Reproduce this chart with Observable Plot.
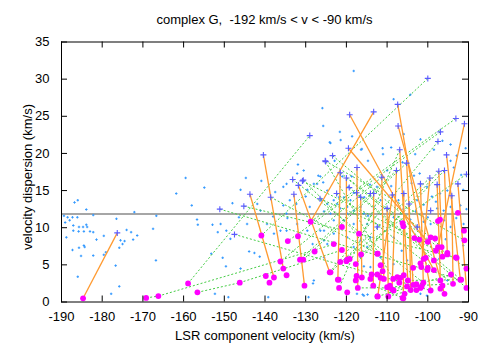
<!DOCTYPE html>
<html><head><meta charset="utf-8">
<script src="https://cdn.jsdelivr.net/npm/d3@7"></script>
<script src="https://cdn.jsdelivr.net/npm/@observablehq/plot@0.6"></script>
<style>
body{margin:0;background:#fff;}
#wrap{position:relative;width:491px;height:343px;font-family:"Liberation Sans",Arial,sans-serif;overflow:hidden;}
#title{position:absolute;left:61px;width:407px;top:12px;height:15px;line-height:15px;font-size:13px;text-align:center;color:#000;white-space:pre;}
#chart{position:absolute;left:0;top:30px;}
</style></head><body>
<div id="wrap"><div id="title">complex G,  -192 km/s &lt; v &lt; -90 km/s</div><div id="chart"></div></div>
<script>
const xTicks = [-190,-180,-170,-160,-150,-140,-130,-120,-110,-100,-90];
const yTicks = [0,5,10,15,20,25,30,35];
const xLabel = "LSR component velocity (km/s)";
const yLabel = "velocity dispersion (km/s)";
const refY = 11.85;

// small blue points
const dotX = [
-159.5,-161.8,-186.8,-186.0,-183.9,-189.4,-188.5,-187.3,-186.1,-182.2,
-172.1,-166.7,-189.1,-188.0,-187.1,-185.7,-184.7,-183.9,-183.7,-183.0,
-182.2,-187.1,-185.8,-184.5,-176.5,-174.0,-172.9,-188.8,-181.4,-179.6,
-175.5,-174.5,-175.0,-172.4,-171.4,-167.5,-187.3,-185.7,-184.5,-184.3,
-179.1,-179.6,-175.8,-182.2,-185.2,-166.8,-176.7,-186.0,-175.8,-177.8,
-152.3,-149.0,-139.2,-129.3,-128.2,-116.0,-114.8,-154.9,-144.7,-140.9,
-148.0,-156.7,-156.5,-152.9,-150.9,-149.5,-151.6,-148.5,-146.4,-144.4,
-143.9,-153.2,-150.4,-149.6,-142.6,-141.3,-146.0,-141.1,-139.5,-141.9,
-136.2,-137.8,-134.7,-134.5,-132.1,-129.6,-128.3,-126.4,-125.5,-128.0,
-127.2,-158.0,-146.0,-137.5,-135.5,-130.0,-138.0,
-125.9,-125.7,-131.9,-130.5,-124.1,-134.7,-135.5,-126.9,-125.7,-121.6,
-123.9,-118.6,-121.4,-116.4,-114.7,-132.1,-122.9,-121.0,-118.7,-128.0,
-126.4,-114.2,-129.6,-124.7,-120.6,-121.8,-133.9,-132.3,-129.0,-126.2,
-125.5,-122.3,-119.0,-116.5,-115.6,-123.9,-119.8,-114.7,-134.7,-118.2,
-108.4,-104.3,-94.4,-96.4,-98.5,-90.7,-106.2,-111.0,-92.9,-94.4,
-93.6,-91.8,-102.0,-103.4,-110.0,-111.0,-109.0,-105.9,-101.8,-103.1,
-116.2,-111.1,
-97.7,-97.0,-95.2,-94.1,-92.6,-91.3,-101.8,-100.2,-102.6,-101.0,
-99.3,-97.7,-96.1,-94.4,-108.7,-107.2,-105.9,-104.6,-110.0,-108.4,
-106.7,-104.3,-102.6,-101.0,-99.3,-110.0,-108.4,-95.6,-94.4,-91.3,
-91.2,-97.2,-103.4,-105.1,-106.4,-108.4,-100.2,-101.8,-95.2,-119.5,
-118.2,-116.5,-114.1,-123.1,-124.7,-121.5,-119.8,-118.2,-115.7,-113.3,
-111.6,-123.1,-120.6,-118.2,-114.9,-112.4,-125.5,-123.1,-119.8,-116.5,
-114.1,-124.7,-118.2,-114.9,-125.5,-115.7,-114.1,-117.4,-115.7,-111.6,
-116.5,-103.0,-100.0,-96.0,-93.0,-106.0,-98.0,-92.0,-90.5,-109.0,
-112.5,-104.0,-99.0
];
const dotY = [
16.7,14.6,13.4,13.7,12.45,11.6,11.4,11.4,11.4,11.7,
12.1,11.6,10.7,11.0,10.3,10.1,10.1,10.4,10.1,9.5,
9.4,9.6,9.5,9.5,11.2,9.7,9.4,8.7,8.4,8.9,
8.3,8.2,7.8,8.4,8.95,9.85,7.0,7.3,7.6,7.4,
6.7,6.35,7.3,6.25,6.2,5.6,4.9,3.4,2.1,1.1,
1.1,0.65,0.65,0.65,2.5,1.0,1.0,15.4,16.7,16.3,
13.3,11.1,10.4,10.4,10.5,9.6,9.4,8.5,11.4,10.5,
6.8,6.5,5.95,4.8,6.6,6.1,4.5,12.3,10.5,13.2,
9.6,9.2,9.6,11.3,10.5,9.6,7.8,9.6,8.3,2.9,
15.9,13.0,15.1,14.8,13.0,14.2,11.5,
26.1,23.7,18.5,17.7,21.5,15.9,15.5,17.0,16.1,22.9,
21.4,22.3,21.8,20.5,19.0,17.3,19.0,16.9,16.9,15.9,
16.9,15.8,15.1,15.0,14.1,14.1,13.7,13.2,12.8,13.7,
12.2,13.2,13.7,12.8,14.1,11.9,11.9,11.6,11.9,31.1,
27.3,27.9,21.2,21.7,20.5,20.7,18.8,19.9,19.7,19.0,
18.1,17.1,17.3,17.0,17.7,16.8,20.8,22.6,21.9,19.9,
20.6,20.7,
15.8,14.6,15.0,14.3,15.9,15.1,15.9,15.5,13.7,13.1,
12.3,12.6,12.3,12.8,14.4,13.7,14.6,13.2,12.6,11.4,
10.8,11.1,10.1,10.8,10.5,9.6,8.7,8.45,10.1,7.6,
10.5,5.8,4.7,5.6,6.9,5.1,0.85,1.1,2.9,15.5,
14.7,14.1,14.6,13.7,13.2,12.6,12.8,12.3,11.9,12.8,
13.7,11.0,11.0,10.5,10.5,10.1,9.6,9.2,8.7,8.3,
8.7,7.8,7.4,7.4,6.0,4.8,4.7,1.1,0.85,6.0,
6.0,12.2,11.4,11.0,11.3,12.5,13.5,13.0,12.5,15.6,
15.5,16.0,14.2
];

// magenta circles
const circX = [
-184.7,-169.2,-166.2,-158.9,-156.6,-146.2,-138.9,-130.3,-140.9,-134.4,
-136.2,-139.8,-137.8,-134.7,-131.4,-130.6,-131.9,-128.8,-127.8,-124.1,
-121.1,-116.9,-123.1,-121.1,-116.4,-112.4,-119.8,-119.2,-121.5,-117.7,
-121.9,-117.7,-112.4,-113.8,-121.8,-117.2,-119.8,-112.4,-120.0,-123.9,
-117.5,-113.4,-112.3,-109.7,-106.0,-110.0,-108.8,-111.6,-111.1,-111.6,
-110.8,-107.5,-106.7,-104.9,-105.1,-104.2,-103.6,-102.1,-101.8,-101.6,
-101.1,-100.1,-99.3,-98.2,-98.0,-98.5,-97.5,-96.6,-96.9,-95.9,
-95.2,-94.3,-93.1,-92.6,-91.8,-91.1,-91.0,-90.5,-90.5,-106.0,
-103.3,-100.0,-112.3,-116.2,-114.1,-108.5,-107.0,-102.8,-101.8,-103.6,
-105.9,-100.5,-98.5,-92.9,-92.0,-93.8,-97.5,-95.2,-96.4,-97.0,
-99.3,-106.2,-101.0,-100.0,-109.3,-108.4,-106.2,-105.7,-102.8,-101.5,
-96.9,-96.4,-135.5,-122.1
];
const circY = [
0.5,0.55,0.8,2.5,1.3,2.6,2.6,2.2,8.95,8.2,
5.45,3.5,3.3,3.6,5.7,5.7,8.85,10.8,6.8,4.0,
10.1,9.2,7.8,7.0,6.4,6.5,5.7,5.8,5.4,5.1,
3.0,2.9,3.7,3.7,1.9,1.9,1.3,0.75,5.5,4.0,
3.5,2.2,0.75,0.75,0.5,2.0,1.7,4.95,4.15,3.25,
3.1,3.35,3.25,2.9,2.1,1.6,4.6,8.4,5.2,4.7,
2.6,4.3,1.55,8.55,6.9,5.6,10.9,7.4,2.9,1.1,
6.4,3.7,6.0,12.0,3.0,9.6,8.3,4.5,1.9,10.2,
8.6,8.1,6.5,3.3,3.1,3.1,2.6,2.4,1.9,2.3,
3.6,5.95,4.3,5.95,3.0,2.45,7.4,6.6,6.1,11.1,
8.7,10.6,5.8,4.6,2.2,1.55,0.55,1.1,1.6,2.1,
1.8,2.2,4.5,3.0
];

// blue plus markers
const plusX = [
-176.3,-140.4,-143.7,-132.9,-131.8,-113.3,-117.4,-119.2,-107.4,-107.3,
-91.0,-95.4,-95.9,-97.3,-119.5,-106.9,-105.2,-107.7,-111.3,-99.5,
-121.5,-113.3,-105.9,-108.7,-101.8,-104.6,-97.7,-110.0,-94.1,-120.0,
-116.5,-92.6,-129.0,-151.1,-145.2,-147.5,-100.0,-93.1,-96.9,-97.5,
-90.5,-125.2,-123.4,-130.8,-133.2,-126.5,-122.4,-119.3,-117.5,-130.6,
-138.6,-125.1,-99.3,-102.6,-112.4,-114.1
];
const plusY = [
9.3,19.8,14.5,14.5,15.7,25.6,18.1,25.2,26.6,23.7,
24.0,19.8,17.7,17.6,20.7,20.5,18.7,17.7,16.8,16.7,
17.4,14.6,14.6,14.4,15.9,13.2,15.8,12.6,14.3,16.7,
14.1,15.9,22.4,12.5,12.9,9.1,30.1,24.7,22.9,21.6,
17.2,19.0,19.7,16.3,16.5,13.9,14.6,15.4,14.7,16.4,
14.1,18.9,12.3,10.1,10.1,14.6
];

// orange solid connections
const oX1 = [-176.3,-140.4,-143.7,-132.9,-131.8,-113.3,-117.4,-119.2,-107.4,-107.3,-91.0,-95.4,-95.9,-97.3,-119.5,-106.9,-105.2,-107.7,-111.3,-99.5,-121.5,-113.3,-105.9,-108.7,-101.8,-104.6,-97.7,-110.0,-94.1,-120.0,-116.5,-92.6];
const oY1 = [9.3,19.8,14.5,14.5,15.7,25.6,18.1,25.2,26.6,23.7,24.0,19.8,17.7,17.6,20.7,20.5,18.7,17.7,16.8,16.7,17.4,14.6,14.6,14.4,15.9,13.2,15.8,12.6,14.3,16.7,14.1,15.9];
const oX2 = [-184.7,-135.5,-137.8,-130.3,-124.1,-128.8,-117.2,-98.5,-99.3,-95.9,-97.5,-92.0,-95.2,-96.4,-100.0,-104.9,-103.6,-108.8,-110.8,-101.6,-122.1,-113.4,-106.0,-112.3,-101.1,-104.2,-96.9,-109.7,-93.8,-120.0,-116.2,-90.5];
const oY2 = [0.5,4.5,3.3,2.2,4.0,10.8,1.9,4.3,1.55,1.1,7.4,3.0,6.4,6.1,8.1,2.9,2.3,1.7,3.1,4.7,3.0,2.2,0.5,0.75,2.6,1.6,2.9,0.75,2.45,5.5,3.3,1.9];

// green dashed connections
const gX1 = [-169.2,-166.2,-156.6,-146.2,-158.9,-151.1,-145.2,-147.5,-100.0,-93.1,-96.9,-97.5,-90.5,-99.5,-125.2,-123.4,-121.5,-120.0,-130.8,-133.2,-126.5,-122.4,-119.3,-111.3,-107.7,-105.2,-97.3,-95.9,-117.5,-112.3,-110.0,-113.4,-117.2,-104.9,-109.7,-106.9,-130.6,-138.6,-125.1];
const gY1 = [0.55,0.8,1.3,2.6,2.5,12.5,12.9,9.1,30.1,24.7,22.9,21.6,17.2,16.7,19.0,19.7,17.4,16.7,16.3,16.5,13.9,14.6,15.4,16.8,17.7,18.7,17.6,17.7,14.7,0.75,2.0,2.2,1.9,2.9,0.75,20.5,16.4,14.1,18.9];
const gX2 = [-166.2,-122.9,-146.2,-121.0,-129.0,-92.0,-93.1,-99.3,-140.9,-128.8,-134.4,-124.1,-121.5,-123.9,-91.0,-96.6,-90.5,-98.0,-102.1,-101.1,-95.2,-93.8,-90.5,-136.2,-131.4,-130.6,-117.7,-116.2,-91.8,-94.3,-93.8,-106.0,-101.8,-91.8,-104.2,-121.8,-112.4,-112.3,-108.5];
const gY2 = [0.8,7.8,2.6,7.0,22.4,3.0,6.0,1.55,8.95,10.8,8.2,4.0,5.4,4.0,8.3,7.4,4.5,6.9,8.4,2.6,6.4,2.45,1.9,5.45,5.7,5.7,5.1,6.4,3.0,3.7,2.45,0.5,1.9,3.0,1.6,1.9,6.5,6.5,3.1];

const dots = dotX.map((x, i) => ({x, y: dotY[i]}));
const circles = circX.map((x, i) => ({x, y: circY[i]}));
const pluses = plusX.map((x, i) => ({x, y: plusY[i]}));
const orange = oX1.map((x, i) => ({x1: x, y1: oY1[i], x2: oX2[i], y2: oY2[i]}));
const green = gX1.map((x, i) => ({x1: x, y1: gY1[i], x2: gX2[i], y2: gY2[i]}));

const W = 491, H = 313, mT = 11.5, mB = 41.5, mL = 61, mR = 23;
const frameW = W - mL - mR, frameH = H - mT - mB, tick = 6;
const fmt = d => String(d);
const chart = Plot.plot({
  width: W, height: H,
  marginTop: mT, marginBottom: mB, marginLeft: mL, marginRight: mR,
  style: {fontFamily: '"Liberation Sans", Arial, sans-serif', fontSize: "13px", color: "#000", background: "#fff", overflow: "visible"},
  x: {domain: [-190, -90]},
  y: {domain: [0, 35]},
  marks: [
    Plot.ruleY([refY], {stroke: "#a6a6a6", strokeWidth: 2}),
    Plot.dot(dots, {x: "x", y: "y", symbol: "plus", r: 0.85, stroke: "#3399ff", strokeWidth: 1}),
    Plot.link(green, {x1: "x1", y1: "y1", x2: "x2", y2: "y2", stroke: "#44cc44", strokeWidth: 1, strokeDasharray: "2,2"}),
    Plot.link(orange, {x1: "x1", y1: "y1", x2: "x2", y2: "y2", stroke: "#ff9a30", strokeWidth: 1.3}),
    Plot.dot(circles, {x: "x", y: "y", r: 2.9, fill: "#ff00ff"}),
    Plot.dot(pluses, {x: "x", y: "y", symbol: "plus", r: 2.1, stroke: "#5b5bff", strokeWidth: 1.1}),
    // inward mirror ticks on all four sides
    Plot.ruleX(xTicks, {stroke: "#000", insetTop: frameH - tick}),
    Plot.ruleX(xTicks, {stroke: "#000", insetBottom: frameH - tick}),
    Plot.ruleY(yTicks, {stroke: "#000", insetRight: frameW - tick}),
    Plot.ruleY(yTicks, {stroke: "#000", insetLeft: frameW - tick}),
    Plot.frame({stroke: "#000"}),
    Plot.axisX({anchor: "bottom", ticks: xTicks, tickFormat: fmt, tickSize: 0, tickPadding: 10, fontSize: 13, label: null}),
    Plot.axisY({anchor: "left", ticks: yTicks, tickFormat: fmt, tickSize: 0, tickPadding: 12, fontSize: 13, label: null}),
    Plot.text([xLabel], {frameAnchor: "bottom", dy: 34, lineAnchor: "middle", fontSize: 13, fill: "#000"}),
    Plot.text([yLabel], {frameAnchor: "middle", dx: -(frameW / 2 + 34), dy: 5, rotate: -90, textAnchor: "middle", lineAnchor: "middle", fontSize: 13, fill: "#000"})
  ]
});
document.getElementById("chart").appendChild(chart);
</script>
</body></html>
